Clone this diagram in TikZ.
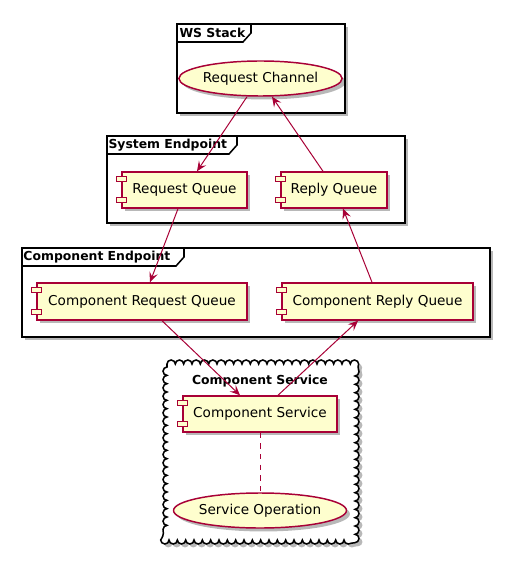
\documentclass[tikz,border=0pt]{standalone}
\usepackage{fontspec}
\setmainfont{DejaVu Sans}
\usetikzlibrary{shapes.geometric,arrows.meta,calc,decorations.pathmorphing,shadows}
\definecolor{umlfill}{HTML}{FEFECE}
\definecolor{umlred}{HTML}{A80036}
\tikzset{every picture/.style={line width=0.75pt}}
\tikzset{
  umlshadow/.style={drop shadow={shadow xshift=2.6pt,shadow yshift=-2.6pt,fill=black,opacity=0.28}},
  compbox/.style={rectangle,draw=umlred,fill=umlfill,line width=1.1pt,minimum height=27pt,inner sep=0pt,font=\fontsize{10.2}{12}\selectfont,umlshadow},
  usecase/.style={ellipse,draw=umlred,fill=umlfill,line width=1.1pt,minimum height=26.25pt,inner sep=0pt,font=\fontsize{10.2}{12}\selectfont,umlshadow},
  compicon/.style={draw=umlred,fill=umlfill,line width=1.1pt},
  framebox/.style={draw=black,fill=white,line width=1.15pt,umlshadow},
  frametab/.style={draw=black,line width=1.15pt},
  frametitle/.style={font=\bfseries\fontsize{9.3}{11}\selectfont,anchor=west,inner sep=0pt},
  flow/.style={draw=umlred,line width=0.75pt,-{Stealth[length=7.5pt,width=6.5pt,inset=3pt]}},
  linkline/.style={draw=umlred,line width=0.75pt,dash pattern=on 4pt off 4pt}
}

\begin{document}
\begin{tikzpicture}[x=0.75pt,y=0.75pt,yscale=-1,xscale=1]
\useasboundingbox (0,0) rectangle (524,570);

%Frame: WS Stack
\draw[framebox] (177,24) rectangle (345,113);
\draw[frametab] (177,42) -- (243,42) -- (251,33) -- (251,24);
\node[frametitle] (wstitle) at (179,33) {WS Stack};

%Frame: System Endpoint
\draw[framebox] (107,136) rectangle (405,223);
\draw[frametab] (107,154) -- (229,154) -- (237,145) -- (237,136);
\node[frametitle] (systitle) at (108,145) {System Endpoint};

%Frame: Component Endpoint
\draw[framebox] (22,248) rectangle (490,337);
\draw[frametab] (22,266) -- (176,266) -- (184,257) -- (184,248);
\node[frametitle] (comptitle) at (23,257) {Component Endpoint};

%Cloud: Component Service
\draw[framebox,decorate,decoration={bumps,segment length=12.5pt,amplitude=3pt}] (167,364) -- (355,364) -- (355,540) -- (167,540) -- cycle;
\node[frametitle,anchor=center] (svctitle) at (260,381) {Component Service};

%Use cases
\node[usecase,minimum width=102.75pt] (chan) at (260.5,78.5) {Request Channel};
\node[usecase,minimum width=106.5pt] (sop) at (260,510.5) {Service Operation};

%Components
\node[compbox,minimum width=93.75pt] (reqq) at (184.5,190) {Request Queue};
\node[compbox,minimum width=79.5pt] (repq) at (334,190) {Reply Queue};
\node[compbox,minimum width=157.5pt,minimum height=27.75pt] (creqq) at (142,301.5) {Component Request Queue};
\node[compbox,minimum width=143.25pt,minimum height=27.75pt] (crepq) at (377.5,301.5) {Component Reply Queue};
\node[compbox,minimum width=115.5pt] (csvc) at (260,414) {Component Service};

%Component icons
\foreach \c in {reqq,repq,creqq,crepq,csvc}{
  \draw[compicon] ($(\c.north west)+(-5,5)$) rectangle ++(10,5);
  \draw[compicon] ($(\c.south west)+(-5,-11)$) rectangle ++(10,5);
}

%Arrows
\draw[flow] ($(chan.south)+(-13.5,0)$) -- ($(reqq.north)+(12.5,0)$);
\draw[flow] ($(repq.north)+(-11,0)$) -- ($(chan.south)+(11.5,0)$);
\draw[flow] ($(reqq.south)+(-6.5,0)$) -- ($(creqq.north)+(8,0)$);
\draw[flow] ($(crepq.north)+(-5.5,0)$) -- ($(repq.south)+(9,0)$);
\draw[flow] ($(creqq.south)+(20,0)$) -- ($(csvc.north)+(-20,0)$);
\draw[flow] ($(csvc.north)+(18,0)$) -- ($(crepq.south)+(-19.5,0)$);
\draw[linkline] (csvc.south) -- (sop.north);

\end{tikzpicture}
\end{document}
